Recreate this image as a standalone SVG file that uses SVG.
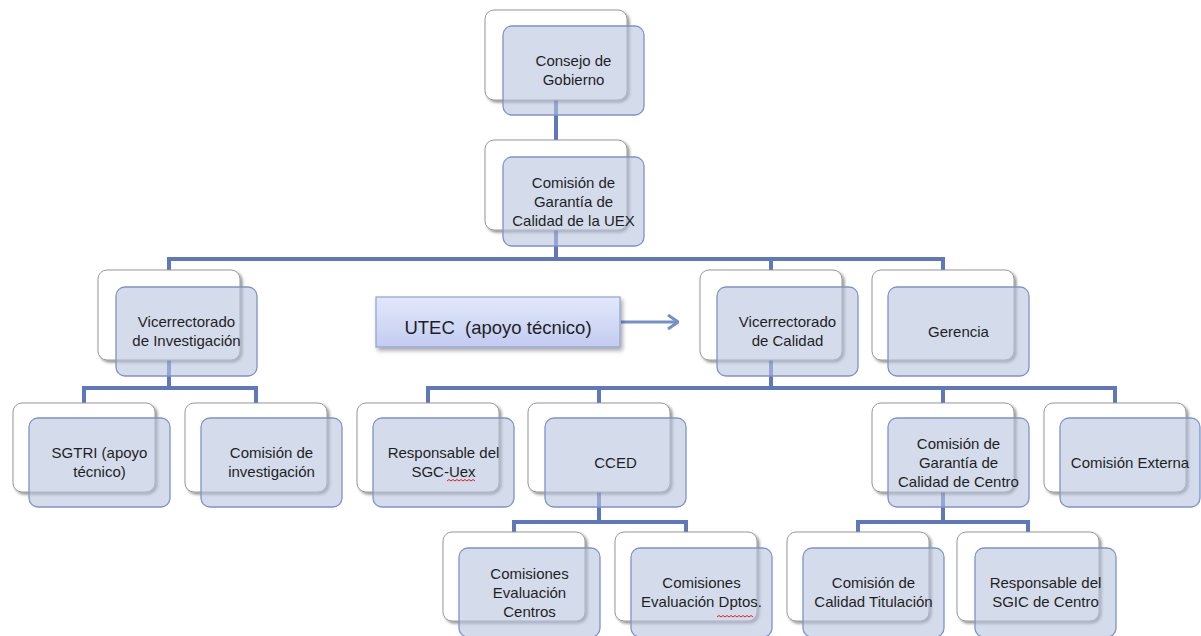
<svg xmlns="http://www.w3.org/2000/svg" width="1201" height="636" viewBox="0 0 1201 636">
<defs>
<filter id="sh" x="-10%" y="-10%" width="130%" height="130%">
<feDropShadow dx="2" dy="2" stdDeviation="1.5" flood-color="#000" flood-opacity="0.45"/>
</filter>
<filter id="sh2" x="-10%" y="-10%" width="130%" height="140%">
<feDropShadow dx="2" dy="3" stdDeviation="2" flood-color="#000" flood-opacity="0.35"/>
</filter>
<linearGradient id="ug" x1="0" y1="0" x2="0" y2="1">
<stop offset="0" stop-color="#e3e8fb"/>
<stop offset="1" stop-color="#c2ccf0"/>
</linearGradient>
<marker id="ah" viewBox="0 0 12 16" refX="11" refY="8" markerWidth="12" markerHeight="16" markerUnits="userSpaceOnUse" orient="auto">
<path d="M1,1 L11,8 L1,15" fill="none" stroke="#7590c8" stroke-width="3" stroke-linejoin="miter"/>
</marker>
</defs>
<style>
.b{fill:#fff;stroke:#989898;stroke-width:1;filter:url(#sh)}
.f{fill:#b8c4e0;fill-opacity:0.6;stroke:#7f93c9;stroke-width:1.3}
.t{font-family:"Liberation Sans",Arial,sans-serif;font-size:15px;fill:#1f1f1f;text-anchor:middle}
.c{fill:none;stroke:#5f78bc;stroke-width:4}
.sq{fill:none;stroke:#e02020;stroke-width:1}
</style>

<g id="connectors">
<path class="c" d="M556,100 V140"/>
<path class="c" d="M556,230 V259 M169,272 V259 H943 V272 M771,259 V272"/>
<path class="c" d="M169,359 V388 M84,405 V388 H256 V405"/>
<path class="c" d="M771,359 V388 M428,405 V388 H1115 V405 M599,388 V405 M943,388 V405"/>
<path class="c" d="M599,492 V522 M514,534 V522 H686 V534"/>
<path class="c" d="M943,492 V522 M858,534 V522 H1028 V534"/>
<path d="M621,322 H678" fill="none" stroke="#7590c8" stroke-width="3" marker-end="url(#ah)"/>
</g>

<g id="n-consejo">
<rect class="b" x="485" y="10" width="142" height="90" rx="9"/>
<rect class="f" x="503" y="26" width="141" height="89" rx="9"/>
<text class="t" x="573.5" y="66">Consejo de</text>
<text class="t" x="573.5" y="85">Gobierno</text>
</g>

<g id="n-cguex">
<rect class="b" x="485" y="140" width="142" height="90" rx="9"/>
<rect class="f" x="503" y="157" width="141" height="89" rx="9"/>
<text class="t" x="573.5" y="187.5">Comisión de</text>
<text class="t" x="573.5" y="206.5">Garantía de</text>
<text class="t" x="573.5" y="225.5">Calidad de la UEX</text>
</g>

<g id="n-vinv">
<rect class="b" x="98" y="270" width="142" height="90" rx="9"/>
<rect class="f" x="116" y="287" width="141" height="89" rx="9"/>
<text class="t" x="186.5" y="327">Vicerrectorado</text>
<text class="t" x="186.5" y="346">de Investigación</text>
</g>

<g id="n-utec">
<rect x="376" y="297" width="244" height="50" fill="url(#ug)" stroke="#8fa0d6" stroke-width="1.2" filter="url(#sh2)"/>
<text x="498" y="334" font-family="'Liberation Sans',Arial,sans-serif" font-size="18.5" fill="#1f1f1f" text-anchor="middle">UTEC&#160; (apoyo técnico)</text>
</g>

<g id="n-vcal">
<rect class="b" x="700" y="270" width="142" height="90" rx="9"/>
<rect class="f" x="717" y="287" width="141" height="89" rx="9"/>
<text class="t" x="787.5" y="327">Vicerrectorado</text>
<text class="t" x="787.5" y="346">de Calidad</text>
</g>

<g id="n-gerencia">
<rect class="b" x="872" y="270" width="142" height="90" rx="9"/>
<rect class="f" x="888" y="287" width="141" height="89" rx="9"/>
<text class="t" x="958.5" y="336.5">Gerencia</text>
</g>

<g id="n-sgtri">
<rect class="b" x="13" y="403" width="142" height="89" rx="9"/>
<rect class="f" x="29" y="418" width="141" height="89" rx="9"/>
<text class="t" x="99.5" y="458">SGTRI (apoyo</text>
<text class="t" x="99.5" y="477">técnico)</text>
</g>

<g id="n-cominv">
<rect class="b" x="185" y="403" width="142" height="89" rx="9"/>
<rect class="f" x="201" y="418" width="141" height="89" rx="9"/>
<text class="t" x="271.5" y="458">Comisión de</text>
<text class="t" x="271.5" y="477">investigación</text>
</g>

<g id="n-respsgc">
<rect class="b" x="357" y="403" width="142" height="89" rx="9"/>
<rect class="f" x="373" y="418" width="141" height="89" rx="9"/>
<text class="t" x="443.5" y="458">Responsable del</text>
<text class="t" x="443.5" y="477">SGC-Uex</text>
<path class="sq" d="M447,481 l2,-1.5 l2,1.5 l2,-1.5 l2,1.5 l2,-1.5 l2,1.5 l2,-1.5 l2,1.5 l2,-1.5 l2,1.5 l2,-1.5 l2,1.5 l2,-1.5 l2,1.5"/>
</g>

<g id="n-cced">
<rect class="b" x="528" y="403" width="142" height="89" rx="9"/>
<rect class="f" x="545" y="418" width="141" height="89" rx="9"/>
<text class="t" x="615.5" y="467.5">CCED</text>
</g>

<g id="n-cgcc">
<rect class="b" x="872" y="403" width="142" height="89" rx="9"/>
<rect class="f" x="888" y="418" width="141" height="89" rx="9"/>
<text class="t" x="958.5" y="448.5">Comisión de</text>
<text class="t" x="958.5" y="467.5">Garantía de</text>
<text class="t" x="958.5" y="486.5">Calidad de Centro</text>
</g>

<g id="n-comext">
<rect class="b" x="1044" y="403" width="142" height="89" rx="9"/>
<rect class="f" x="1060" y="418" width="140" height="89" rx="9"/>
<text class="t" x="1130" y="467.5">Comisión Externa</text>
</g>

<g id="n-cec">
<rect class="b" x="443" y="532" width="142" height="89" rx="9"/>
<rect class="f" x="459" y="548" width="141" height="89" rx="9"/>
<text class="t" x="529.5" y="578.5">Comisiones</text>
<text class="t" x="529.5" y="597.5">Evaluación</text>
<text class="t" x="529.5" y="616.5">Centros</text>
</g>

<g id="n-ced">
<rect class="b" x="615" y="532" width="142" height="89" rx="9"/>
<rect class="f" x="631" y="548" width="141" height="89" rx="9"/>
<text class="t" x="701.5" y="588">Comisiones</text>
<text class="t" x="701.5" y="607">Evaluación Dptos.</text>
<path class="sq" d="M717,617 l2,-1.5 l2,1.5 l2,-1.5 l2,1.5 l2,-1.5 l2,1.5 l2,-1.5 l2,1.5 l2,-1.5 l2,1.5 l2,-1.5 l2,1.5 l2,-1.5 l2,1.5 l2,-1.5 l2,1.5 l2,-1.5 l2,1.5"/>
</g>

<g id="n-cct">
<rect class="b" x="787" y="532" width="142" height="89" rx="9"/>
<rect class="f" x="803" y="548" width="141" height="89" rx="9"/>
<text class="t" x="873.5" y="588">Comisión de</text>
<text class="t" x="873.5" y="607">Calidad Titulación</text>
</g>

<g id="n-rsgic">
<rect class="b" x="957" y="532" width="142" height="89" rx="9"/>
<rect class="f" x="975" y="548" width="141" height="89" rx="9"/>
<text class="t" x="1045.5" y="588">Responsable del</text>
<text class="t" x="1045.5" y="607">SGIC de Centro</text>
</g>
</svg>
